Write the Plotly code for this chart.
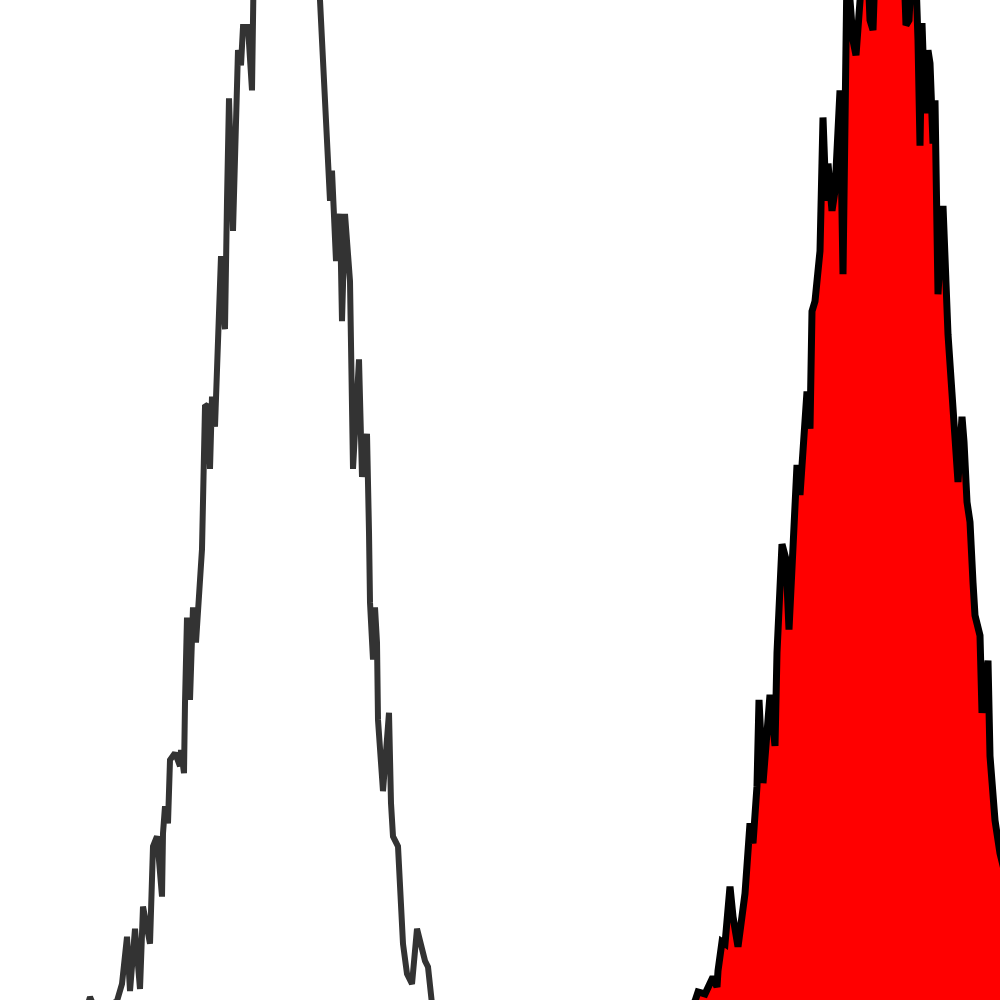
import plotly.graph_objects as go

# Unstained / control histogram (outline only)
left_channel = [60, 88, 90, 93, 112, 117, 122, 127, 130, 135, 140, 143, 150, 152, 153, 157, 162, 163, 165, 168,
                170, 175, 180, 181, 184, 185, 187, 190, 193, 196, 199, 202, 205, 208, 210, 212, 215, 217, 221, 223,
                225, 227, 229, 233, 236, 238, 241, 243, 248, 252, 254, 260, 270, 280, 290, 300, 310, 318, 320, 322,
                325, 327, 330, 332, 334, 336, 340, 342, 345, 348, 350, 353, 359, 362, 367, 369, 370, 373, 375, 377,
                378, 383, 389, 391, 393, 398, 401, 403, 407, 412, 417, 422, 425, 428, 432, 440, 450]
left_count = [0, 0, 7, 0, 0, 3, 20, 67, 13, 75, 15, 97, 60, 107, 157, 167, 107, 170, 197, 180,
              243, 250, 237, 253, 230, 300, 385, 303, 395, 360, 400, 453, 595, 597, 533, 605, 575, 640, 745, 700,
              672, 800, 902, 770, 880, 950, 935, 973, 973, 910, 1050, 1150, 1200, 1230, 1220, 1180, 1120, 1040, 1000, 960,
              907, 850, 800, 830, 787, 740, 787, 680, 787, 750, 720, 533, 642, 525, 568, 470, 400, 343, 395, 360,
              283, 212, 290, 200, 167, 157, 100, 60, 30, 20, 75, 53, 43, 37, 0, 0, 0]

# Stained sample histogram (filled)
right_channel = [680, 693, 695, 698, 705, 710, 713, 717, 718, 722, 725, 730, 733, 738, 745, 750, 753, 757, 759, 763,
                 767, 770, 775, 777, 782, 786, 789, 792, 797, 800, 803, 807, 810, 812, 815, 817, 820, 823, 826, 828,
                 832, 835, 840, 843, 847, 850, 853, 856, 859, 862, 866, 870, 873, 876, 885, 895, 903, 906, 909, 912,
                 916, 918, 920, 922, 925, 928, 930, 933, 935, 938, 943, 948, 952, 955, 958, 962, 964, 967, 970, 973,
                 975, 980, 982, 988, 990, 995, 1000, 1005]
right_count = [0, 0, 3, 12, 10, 20, 27, 17, 33, 62, 60, 117, 87, 57, 110, 180, 160, 217, 303, 220,
               263, 308, 257, 350, 458, 443, 373, 433, 537, 507, 553, 610, 573, 690, 700, 727, 750, 883, 800, 837,
               790, 810, 910, 727, 1030, 1000, 960, 945, 1000, 1060, 1080, 980, 970, 1060, 1100, 1090, 1060, 975, 980, 1040,
               1020, 960, 855, 977, 887, 950, 937, 857, 900, 707, 795, 667, 600, 550, 520, 585, 560, 500, 480, 420,
               387, 367, 290, 342, 247, 183, 150, 130]

fig = go.Figure()
fig.add_trace(go.Scatter(x=left_channel, y=left_count, mode="lines",
                         line=dict(color="#333333", width=6), showlegend=False, hoverinfo="skip"))
fig.add_trace(go.Scatter(x=right_channel, y=right_count, mode="lines", fill="tozeroy",
                         fillcolor="#ff0000", line=dict(color="#000000", width=7),
                         showlegend=False, hoverinfo="skip"))

fig.update_layout(
    width=1000, height=1000,
    margin=dict(l=0, r=0, t=0, b=0),
    paper_bgcolor="white", plot_bgcolor="white",
    xaxis=dict(range=[0, 1000], visible=False, showgrid=False, zeroline=False),
    yaxis=dict(range=[4, 1000], visible=False, showgrid=False, zeroline=False),
)
fig.write_html("out.html", config={"displayModeBar": False},
               post_script="document.body.style.margin='0px';")
